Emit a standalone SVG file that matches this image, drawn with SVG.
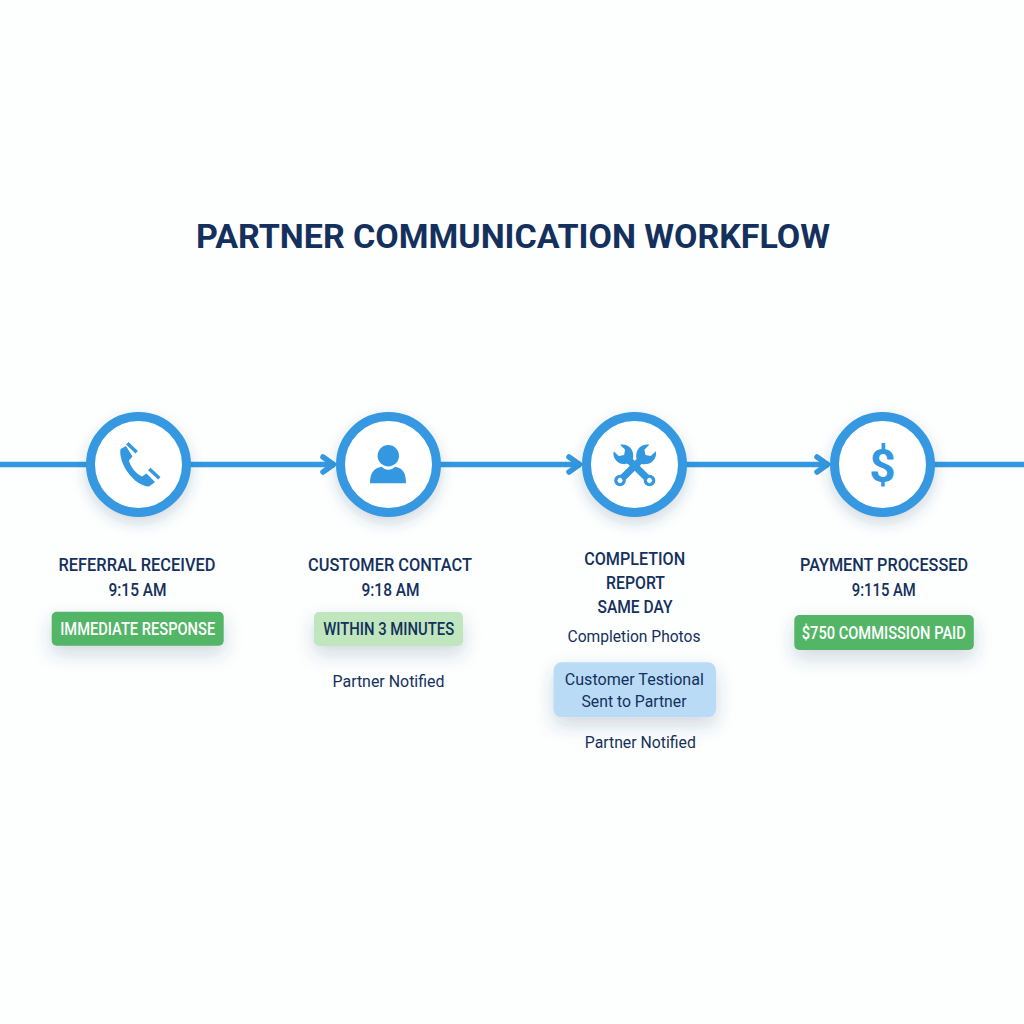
<svg xmlns="http://www.w3.org/2000/svg" width="1024" height="1024" viewBox="0 0 1024 1024">
<style>
text{font-family:"Roboto","Liberation Sans",sans-serif;text-anchor:middle;fill:#14305c}
.title{font-size:34px;font-weight:700}
.head{font-size:17.500px;font-weight:500}
.sub{font-size:16px;font-weight:400}
.pilltext{font-size:17.500px;font-weight:500}
.ring{fill:#fff;stroke:#3498e0;stroke-width:9;filter:url(#ns)}
.ic{fill:#3498e0}
.tool{fill:none;stroke:#3498e0}
.conn{stroke:#3498e0;stroke-width:5.500;fill:none}
.pill{filter:url(#ps)}
</style>
<defs>
<filter id="ns" x="-30%" y="-30%" width="160%" height="170%"><feDropShadow dx="0" dy="6" stdDeviation="7" flood-color="#1d3f66" flood-opacity=".2"/></filter>
<filter id="ps" x="-20%" y="-60%" width="140%" height="280%"><feDropShadow dx="0" dy="8" stdDeviation="9" flood-color="#1d3f66" flood-opacity=".2"/></filter>
<marker id="ah" markerUnits="userSpaceOnUse" markerWidth="24" markerHeight="28" refX="19" refY="14" orient="auto"><path d="M7,6.500 L17.500,14 L7,21.500" fill="none" stroke="#3498e0" stroke-width="5.500" stroke-linecap="round" stroke-linejoin="round"/></marker>
<g id="wrench">
<path d="M-3.500,0 L-3.500,-27 C-7,-29 -9.500,-33 -9.500,-37 C-9.500,-41 -7.500,-44.500 -4.500,-46 L-4.500,-39 L0,-36 L4.500,-39 L4.500,-46 C7.500,-44.500 9.500,-41 9.500,-37 C9.500,-33 7,-29 3.500,-27 L3.500,0 Z"/>
<circle r="5.800"/>
<circle r="2.600" fill="#fff"/>
</g>
</defs>
<rect width="1024" height="1024" fill="#fdfefe"/>
<g id="title"><text class="title" x="513" y="248" textLength="634" lengthAdjust="spacing">PARTNER COMMUNICATION WORKFLOW</text></g>
<g id="connectors">
<line class="conn" x1="0" y1="464.500" x2="90" y2="464.500"/>
<line class="conn" x1="188" y1="464.500" x2="335" y2="464.500" marker-end="url(#ah)"/>
<line class="conn" x1="438" y1="464.500" x2="581" y2="464.500" marker-end="url(#ah)"/>
<line class="conn" x1="684" y1="464.500" x2="829" y2="464.500" marker-end="url(#ah)"/>
<line class="conn" x1="930" y1="464.500" x2="1024" y2="464.500"/>
</g>
<g id="node-referral">
<circle class="ring" cx="138.500" cy="464.500" r="48"/>
<path class="ic" d="M126,446 L120.500,449 C118,463 134,486 149,486.500 L155,482 L146.500,473.500 L142,476.500 C136,474 130,466 129,460.500 L132.500,456.500 Z"/>
<path class="tool" stroke-width="3.500" d="M127.300,443.300 L136.700,452.300 M149.300,469 L159.300,478.300"/>
<text class="head" x="137" y="571" textLength="157" lengthAdjust="spacingAndGlyphs">REFERRAL RECEIVED</text>
<text class="head" x="137.500" y="595.700" textLength="58" lengthAdjust="spacingAndGlyphs">9:15 AM</text>
<rect class="pill" x="51.700" y="611.700" width="172" height="34" rx="5" fill="#52b566"/>
<text class="pilltext" x="137.700" y="635" style="fill:#fff" textLength="155" lengthAdjust="spacingAndGlyphs">IMMEDIATE RESPONSE</text>
</g>
<g id="node-contact">
<circle class="ring" cx="388.500" cy="464.500" r="48"/>
<circle class="ic" cx="388.300" cy="455.700" r="10.700"/>
<path class="ic" d="M370,483.300 C370,473.300 373.300,468.300 381.700,466.700 C385,470.700 391.700,470.700 395,466.700 C403.300,468.300 406,473.300 406,483.300 Z"/>
<text class="head" x="390" y="571" textLength="164" lengthAdjust="spacingAndGlyphs">CUSTOMER CONTACT</text>
<text class="head" x="390.500" y="595.700" textLength="58" lengthAdjust="spacingAndGlyphs">9:18 AM</text>
<rect class="pill" x="314" y="612" width="149" height="34" rx="5" fill="#bfe6bd"/>
<text class="pilltext" x="388.700" y="635" textLength="131" lengthAdjust="spacingAndGlyphs">WITHIN 3 MINUTES</text>
<text class="sub" x="388.500" y="687" textLength="112" lengthAdjust="spacingAndGlyphs">Partner Notified</text>
</g>
<g id="node-report">
<circle class="ring" cx="634.500" cy="464.500" r="48"/>
<use href="#wrench" transform="translate(649.500,480.500) rotate(-45)" fill="#3498e0"/>
<path d="M625.500,464 L633,472 M636.500,456.500 L644,464" fill="none" stroke="#fff" stroke-width="2"/>
<use href="#wrench" transform="translate(620,480.500) rotate(45)" fill="#3498e0"/>
<text class="head" x="634.700" y="565" textLength="101" lengthAdjust="spacingAndGlyphs">COMPLETION</text>
<text class="head" x="635.500" y="589" textLength="59" lengthAdjust="spacingAndGlyphs">REPORT</text>
<text class="head" x="635" y="613" textLength="75" lengthAdjust="spacingAndGlyphs">SAME DAY</text>
<text class="sub" x="634" y="642" textLength="133" lengthAdjust="spacingAndGlyphs">Completion Photos</text>
<rect class="pill" x="553.500" y="662.300" width="162.500" height="55" rx="8" fill="#b9dbf6"/>
<text class="sub" x="634.300" y="685.300" textLength="139" lengthAdjust="spacingAndGlyphs">Customer Testional</text>
<text class="sub" x="634" y="706.700" textLength="105" lengthAdjust="spacingAndGlyphs">Sent to Partner</text>
<text class="sub" x="640.300" y="748.300" textLength="111" lengthAdjust="spacingAndGlyphs">Partner Notified</text>
</g>
<g id="node-payment">
<circle class="ring" cx="882.500" cy="464.500" r="48"/>
<text x="882.500" y="481.500" style="font-size:46px;font-weight:700;fill:#3498e0">$</text>
<text class="head" x="884" y="571" textLength="168" lengthAdjust="spacingAndGlyphs">PAYMENT PROCESSED</text>
<text class="head" x="883.800" y="595.700" textLength="64" lengthAdjust="spacingAndGlyphs">9:115 AM</text>
<rect class="pill" x="794.300" y="615" width="179.500" height="35" rx="5" fill="#52b566"/>
<text class="pilltext" x="883.800" y="638.700" style="fill:#fff" textLength="164" lengthAdjust="spacingAndGlyphs">$750 COMMISSION PAID</text>
</g>
</svg>
